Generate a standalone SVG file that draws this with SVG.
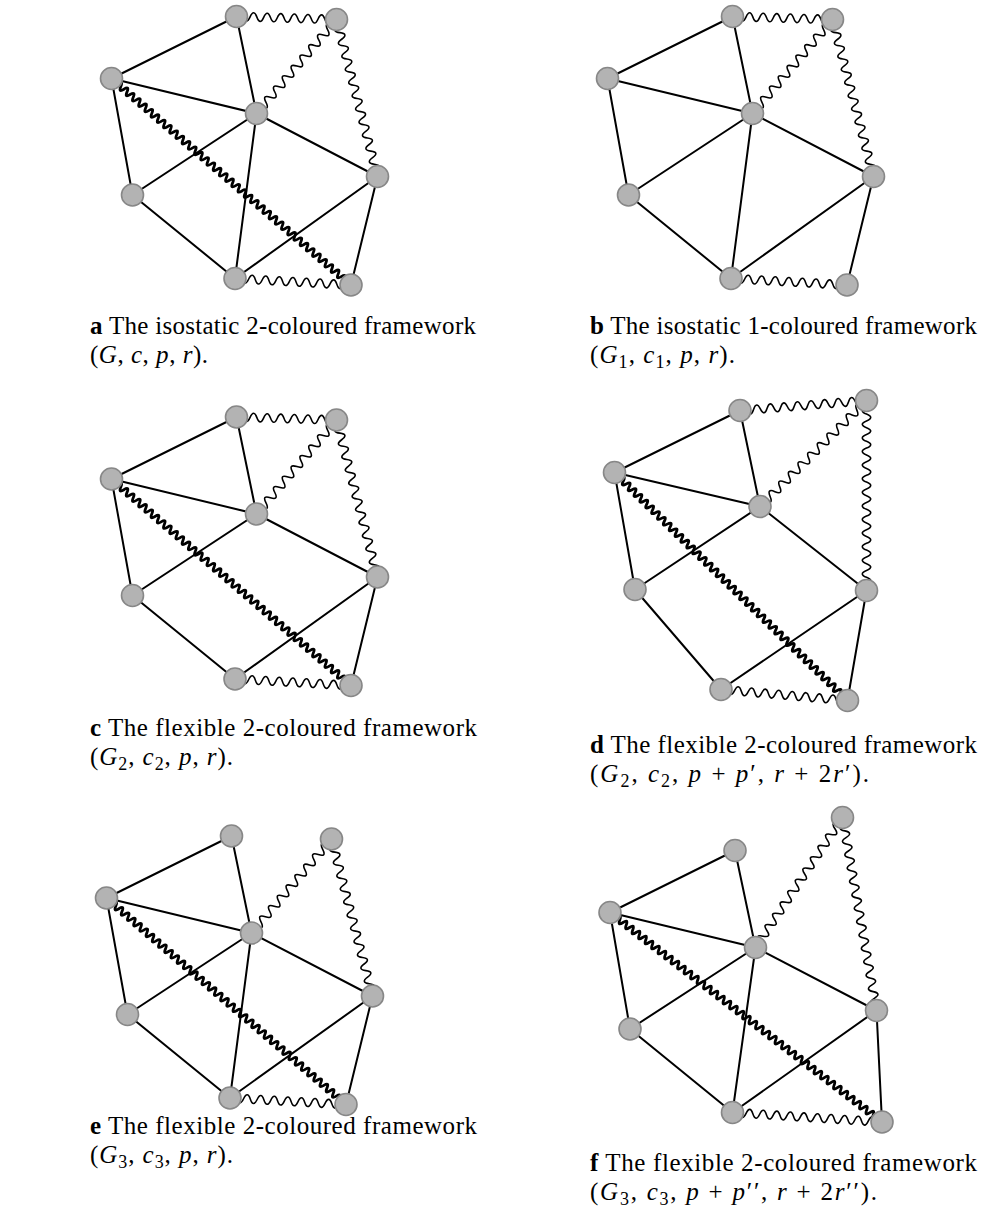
<svg xmlns="http://www.w3.org/2000/svg" xmlns:xlink="http://www.w3.org/1999/xlink" width="981" height="1221" viewBox="0 0 981 1221">
<style>
.bg{fill:#fff}
.e{stroke:#000;stroke-width:2;fill:none;stroke-linecap:round}
.w{stroke:#000;stroke-width:1.6;fill:none}
.k{stroke:#000;stroke-width:2.8;fill:none}
.n{fill:#b3b3b3;stroke:#878787;stroke-width:1.6}
.cap{font-family:"Liberation Serif","Times New Roman",serif;font-size:25px;fill:#000}
.bd{font-weight:bold}
.i{font-style:italic}
.s{font-size:18px}
</style>
<defs>
<path id="w15" d="M0 0q3.4-8.4 6.8 0t6.8 0 t6.8 0 t6.8 0 t6.8 0 t6.8 0 t6.8 0 t6.8 0 t6.8 0 t6.8 0 t6.8 0 t6.8 0 t6.8 0 t6.8 0 t6.8 0"/>
<path id="w17" d="M0 0q3.4-8.4 6.8 0t6.8 0 t6.8 0 t6.8 0 t6.8 0 t6.8 0 t6.8 0 t6.8 0 t6.8 0 t6.8 0 t6.8 0 t6.8 0 t6.8 0 t6.8 0 t6.8 0 t6.8 0 t6.8 0"/>
<path id="w18" d="M0 0q3.4-8.4 6.8 0t6.8 0 t6.8 0 t6.8 0 t6.8 0 t6.8 0 t6.8 0 t6.8 0 t6.8 0 t6.8 0 t6.8 0 t6.8 0 t6.8 0 t6.8 0 t6.8 0 t6.8 0 t6.8 0 t6.8 0"/>
<path id="w19" d="M0 0q3.4-8.4 6.8 0t6.8 0 t6.8 0 t6.8 0 t6.8 0 t6.8 0 t6.8 0 t6.8 0 t6.8 0 t6.8 0 t6.8 0 t6.8 0 t6.8 0 t6.8 0 t6.8 0 t6.8 0 t6.8 0 t6.8 0 t6.8 0"/>
<path id="w22" d="M0 0q3.4-8.4 6.8 0t6.8 0 t6.8 0 t6.8 0 t6.8 0 t6.8 0 t6.8 0 t6.8 0 t6.8 0 t6.8 0 t6.8 0 t6.8 0 t6.8 0 t6.8 0 t6.8 0 t6.8 0 t6.8 0 t6.8 0 t6.8 0 t6.8 0 t6.8 0 t6.8 0"/>
<path id="w23" d="M0 0q3.4-8.4 6.8 0t6.8 0 t6.8 0 t6.8 0 t6.8 0 t6.8 0 t6.8 0 t6.8 0 t6.8 0 t6.8 0 t6.8 0 t6.8 0 t6.8 0 t6.8 0 t6.8 0 t6.8 0 t6.8 0 t6.8 0 t6.8 0 t6.8 0 t6.8 0 t6.8 0 t6.8 0"/>
<path id="w24" d="M0 0q3.4-8.4 6.8 0t6.8 0 t6.8 0 t6.8 0 t6.8 0 t6.8 0 t6.8 0 t6.8 0 t6.8 0 t6.8 0 t6.8 0 t6.8 0 t6.8 0 t6.8 0 t6.8 0 t6.8 0 t6.8 0 t6.8 0 t6.8 0 t6.8 0 t6.8 0 t6.8 0 t6.8 0 t6.8 0"/>
<path id="w28" d="M0 0q3.4-8.4 6.8 0t6.8 0 t6.8 0 t6.8 0 t6.8 0 t6.8 0 t6.8 0 t6.8 0 t6.8 0 t6.8 0 t6.8 0 t6.8 0 t6.8 0 t6.8 0 t6.8 0 t6.8 0 t6.8 0 t6.8 0 t6.8 0 t6.8 0 t6.8 0 t6.8 0 t6.8 0 t6.8 0 t6.8 0 t6.8 0 t6.8 0 t6.8 0"/>
<path id="w29" d="M0 0q3.4-8.4 6.8 0t6.8 0 t6.8 0 t6.8 0 t6.8 0 t6.8 0 t6.8 0 t6.8 0 t6.8 0 t6.8 0 t6.8 0 t6.8 0 t6.8 0 t6.8 0 t6.8 0 t6.8 0 t6.8 0 t6.8 0 t6.8 0 t6.8 0 t6.8 0 t6.8 0 t6.8 0 t6.8 0 t6.8 0 t6.8 0 t6.8 0 t6.8 0 t6.8 0"/>
<path id="k77" d="M0 0q2.05-6.5 4.1 0t4.1 0 t4.1 0 t4.1 0 t4.1 0 t4.1 0 t4.1 0 t4.1 0 t4.1 0 t4.1 0 t4.1 0 t4.1 0 t4.1 0 t4.1 0 t4.1 0 t4.1 0 t4.1 0 t4.1 0 t4.1 0 t4.1 0 t4.1 0 t4.1 0 t4.1 0 t4.1 0 t4.1 0 t4.1 0 t4.1 0 t4.1 0 t4.1 0 t4.1 0 t4.1 0 t4.1 0 t4.1 0 t4.1 0 t4.1 0 t4.1 0 t4.1 0 t4.1 0 t4.1 0 t4.1 0 t4.1 0 t4.1 0 t4.1 0 t4.1 0 t4.1 0 t4.1 0 t4.1 0 t4.1 0 t4.1 0 t4.1 0 t4.1 0 t4.1 0 t4.1 0 t4.1 0 t4.1 0 t4.1 0 t4.1 0 t4.1 0 t4.1 0 t4.1 0 t4.1 0 t4.1 0 t4.1 0 t4.1 0 t4.1 0 t4.1 0 t4.1 0 t4.1 0 t4.1 0 t4.1 0 t4.1 0 t4.1 0 t4.1 0 t4.1 0 t4.1 0 t4.1 0 t4.1 0"/>
<path id="k80" d="M0 0q2.05-6.5 4.1 0t4.1 0 t4.1 0 t4.1 0 t4.1 0 t4.1 0 t4.1 0 t4.1 0 t4.1 0 t4.1 0 t4.1 0 t4.1 0 t4.1 0 t4.1 0 t4.1 0 t4.1 0 t4.1 0 t4.1 0 t4.1 0 t4.1 0 t4.1 0 t4.1 0 t4.1 0 t4.1 0 t4.1 0 t4.1 0 t4.1 0 t4.1 0 t4.1 0 t4.1 0 t4.1 0 t4.1 0 t4.1 0 t4.1 0 t4.1 0 t4.1 0 t4.1 0 t4.1 0 t4.1 0 t4.1 0 t4.1 0 t4.1 0 t4.1 0 t4.1 0 t4.1 0 t4.1 0 t4.1 0 t4.1 0 t4.1 0 t4.1 0 t4.1 0 t4.1 0 t4.1 0 t4.1 0 t4.1 0 t4.1 0 t4.1 0 t4.1 0 t4.1 0 t4.1 0 t4.1 0 t4.1 0 t4.1 0 t4.1 0 t4.1 0 t4.1 0 t4.1 0 t4.1 0 t4.1 0 t4.1 0 t4.1 0 t4.1 0 t4.1 0 t4.1 0 t4.1 0 t4.1 0 t4.1 0 t4.1 0 t4.1 0"/>
<path id="k84" d="M0 0q2.05-6.5 4.1 0t4.1 0 t4.1 0 t4.1 0 t4.1 0 t4.1 0 t4.1 0 t4.1 0 t4.1 0 t4.1 0 t4.1 0 t4.1 0 t4.1 0 t4.1 0 t4.1 0 t4.1 0 t4.1 0 t4.1 0 t4.1 0 t4.1 0 t4.1 0 t4.1 0 t4.1 0 t4.1 0 t4.1 0 t4.1 0 t4.1 0 t4.1 0 t4.1 0 t4.1 0 t4.1 0 t4.1 0 t4.1 0 t4.1 0 t4.1 0 t4.1 0 t4.1 0 t4.1 0 t4.1 0 t4.1 0 t4.1 0 t4.1 0 t4.1 0 t4.1 0 t4.1 0 t4.1 0 t4.1 0 t4.1 0 t4.1 0 t4.1 0 t4.1 0 t4.1 0 t4.1 0 t4.1 0 t4.1 0 t4.1 0 t4.1 0 t4.1 0 t4.1 0 t4.1 0 t4.1 0 t4.1 0 t4.1 0 t4.1 0 t4.1 0 t4.1 0 t4.1 0 t4.1 0 t4.1 0 t4.1 0 t4.1 0 t4.1 0 t4.1 0 t4.1 0 t4.1 0 t4.1 0 t4.1 0 t4.1 0 t4.1 0 t4.1 0 t4.1 0 t4.1 0 t4.1 0 t4.1 0"/>
</defs>
<rect class="bg" x="0" y="0" width="981" height="1221"/>

<!-- Panel a -->
<g id="panel-a">
<g id="a-connectors">
<line class="e" x1="236.5" y1="16.5" x2="111.5" y2="78.5"/>
<line class="e" x1="236.5" y1="16.5" x2="256.5" y2="113.5"/>
<line class="e" x1="111.5" y1="78.5" x2="256.5" y2="113.5"/>
<line class="e" x1="111.5" y1="78.5" x2="132.5" y2="195"/>
<line class="e" x1="132.5" y1="195" x2="256.5" y2="113.5"/>
<line class="e" x1="132.5" y1="195" x2="235" y2="278.5"/>
<line class="e" x1="256.5" y1="113.5" x2="235" y2="278.5"/>
<line class="e" x1="256.5" y1="113.5" x2="377.5" y2="176.5"/>
<line class="e" x1="235" y1="278.5" x2="377.5" y2="176.5"/>
<line class="e" x1="377.5" y1="176.5" x2="351" y2="285"/>
<use class="w" href="#w15" transform="translate(236.5,16.5) rotate(1.72)"/>
<use class="w" href="#w18" transform="translate(336.5,19.5) rotate(130.4)"/>
<use class="w" href="#w24" transform="translate(336.5,19.5) rotate(75.36)"/>
<use class="w" href="#w17" transform="translate(235,278.5) rotate(3.21)"/>
<use class="k" href="#k77" transform="translate(111.5,78.5) rotate(40.77)"/>
</g>
<g id="a-T"><circle class="n" cx="236.5" cy="16.5" r="11"/></g>
<g id="a-TR"><circle class="n" cx="336.5" cy="19.5" r="11"/></g>
<g id="a-L"><circle class="n" cx="111.5" cy="78.5" r="11"/></g>
<g id="a-C"><circle class="n" cx="256.5" cy="113.5" r="11"/></g>
<g id="a-R"><circle class="n" cx="377.5" cy="176.5" r="11"/></g>
<g id="a-LL"><circle class="n" cx="132.5" cy="195" r="11"/></g>
<g id="a-B"><circle class="n" cx="235" cy="278.5" r="11"/></g>
<g id="a-BR"><circle class="n" cx="351" cy="285" r="11"/></g>
<text class="cap" x="90" y="334" textLength="386" lengthAdjust="spacing"><tspan class="bd">a</tspan> The isostatic 2-coloured framework</text>
<text class="cap" x="90" y="363" textLength="118" lengthAdjust="spacing">(<tspan class="i">G</tspan>, <tspan class="i">c</tspan>, <tspan class="i">p</tspan>, <tspan class="i">r</tspan>).</text>
</g>

<!-- Panel b -->
<g id="panel-b" transform="translate(496,0)">
<g id="b-connectors">
<line class="e" x1="236.5" y1="16.5" x2="111.5" y2="78.5"/>
<line class="e" x1="236.5" y1="16.5" x2="256.5" y2="113.5"/>
<line class="e" x1="111.5" y1="78.5" x2="256.5" y2="113.5"/>
<line class="e" x1="111.5" y1="78.5" x2="132.5" y2="195"/>
<line class="e" x1="132.5" y1="195" x2="256.5" y2="113.5"/>
<line class="e" x1="132.5" y1="195" x2="235" y2="278.5"/>
<line class="e" x1="256.5" y1="113.5" x2="235" y2="278.5"/>
<line class="e" x1="256.5" y1="113.5" x2="377.5" y2="176.5"/>
<line class="e" x1="235" y1="278.5" x2="377.5" y2="176.5"/>
<line class="e" x1="377.5" y1="176.5" x2="351" y2="285"/>
<use class="w" href="#w15" transform="translate(236.5,16.5) rotate(1.72)"/>
<use class="w" href="#w18" transform="translate(336.5,19.5) rotate(130.4)"/>
<use class="w" href="#w24" transform="translate(336.5,19.5) rotate(75.36)"/>
<use class="w" href="#w17" transform="translate(235,278.5) rotate(3.21)"/>
</g>
<g id="b-T"><circle class="n" cx="236.5" cy="16.5" r="11"/></g>
<g id="b-TR"><circle class="n" cx="336.5" cy="19.5" r="11"/></g>
<g id="b-L"><circle class="n" cx="111.5" cy="78.5" r="11"/></g>
<g id="b-C"><circle class="n" cx="256.5" cy="113.5" r="11"/></g>
<g id="b-R"><circle class="n" cx="377.5" cy="176.5" r="11"/></g>
<g id="b-LL"><circle class="n" cx="132.5" cy="195" r="11"/></g>
<g id="b-B"><circle class="n" cx="235" cy="278.5" r="11"/></g>
<g id="b-BR"><circle class="n" cx="351" cy="285" r="11"/></g>
<text class="cap" x="94" y="334" textLength="387" lengthAdjust="spacing"><tspan class="bd">b</tspan> The isostatic 1-coloured framework</text>
<text class="cap" x="94" y="363" textLength="145" lengthAdjust="spacing">(<tspan class="i">G</tspan><tspan class="s" dy="5">1</tspan><tspan dy="-5">, </tspan><tspan class="i">c</tspan><tspan class="s" dy="5">1</tspan><tspan dy="-5">, </tspan><tspan class="i">p</tspan>, <tspan class="i">r</tspan>).</text>
</g>

<!-- Panel c -->
<g id="panel-c" transform="translate(0,400.5)">
<g id="c-connectors">
<line class="e" x1="236.5" y1="16.5" x2="111.5" y2="78.5"/>
<line class="e" x1="236.5" y1="16.5" x2="256.5" y2="113.5"/>
<line class="e" x1="111.5" y1="78.5" x2="256.5" y2="113.5"/>
<line class="e" x1="111.5" y1="78.5" x2="132.5" y2="195"/>
<line class="e" x1="132.5" y1="195" x2="256.5" y2="113.5"/>
<line class="e" x1="132.5" y1="195" x2="235" y2="278.5"/>
<line class="e" x1="256.5" y1="113.5" x2="377.5" y2="176.5"/>
<line class="e" x1="235" y1="278.5" x2="377.5" y2="176.5"/>
<line class="e" x1="377.5" y1="176.5" x2="351" y2="285"/>
<use class="w" href="#w15" transform="translate(236.5,16.5) rotate(1.72)"/>
<use class="w" href="#w18" transform="translate(336.5,19.5) rotate(130.4)"/>
<use class="w" href="#w24" transform="translate(336.5,19.5) rotate(75.36)"/>
<use class="w" href="#w17" transform="translate(235,278.5) rotate(3.21)"/>
<use class="k" href="#k77" transform="translate(111.5,78.5) rotate(40.77)"/>
</g>
<g id="c-T"><circle class="n" cx="236.5" cy="16.5" r="11"/></g>
<g id="c-TR"><circle class="n" cx="336.5" cy="19.5" r="11"/></g>
<g id="c-L"><circle class="n" cx="111.5" cy="78.5" r="11"/></g>
<g id="c-C"><circle class="n" cx="256.5" cy="113.5" r="11"/></g>
<g id="c-R"><circle class="n" cx="377.5" cy="176.5" r="11"/></g>
<g id="c-LL"><circle class="n" cx="132.5" cy="195" r="11"/></g>
<g id="c-B"><circle class="n" cx="235" cy="278.5" r="11"/></g>
<g id="c-BR"><circle class="n" cx="351" cy="285" r="11"/></g>
<text class="cap" x="90" y="335.5" textLength="387" lengthAdjust="spacing"><tspan class="bd">c</tspan> The flexible 2-coloured framework</text>
<text class="cap" x="90" y="364.5" textLength="143" lengthAdjust="spacing">(<tspan class="i">G</tspan><tspan class="s" dy="5">2</tspan><tspan dy="-5">, </tspan><tspan class="i">c</tspan><tspan class="s" dy="5">2</tspan><tspan dy="-5">, </tspan><tspan class="i">p</tspan>, <tspan class="i">r</tspan>).</text>
</g>

<!-- Panel d -->
<g id="panel-d">
<g id="d-connectors">
<line class="e" x1="740" y1="410.5" x2="614.5" y2="472.5"/>
<line class="e" x1="740" y1="410.5" x2="760" y2="506.5"/>
<line class="e" x1="614.5" y1="472.5" x2="760" y2="506.5"/>
<line class="e" x1="614.5" y1="472.5" x2="635" y2="589.5"/>
<line class="e" x1="635" y1="589.5" x2="760" y2="506.5"/>
<line class="e" x1="635" y1="589.5" x2="721" y2="689.5"/>
<line class="e" x1="760" y1="506.5" x2="866.5" y2="590.5"/>
<line class="e" x1="721" y1="689.5" x2="866.5" y2="590.5"/>
<line class="e" x1="866.5" y1="590.5" x2="847.5" y2="700.5"/>
<use class="w" href="#w19" transform="translate(740,410.5) rotate(-4.52)"/>
<use class="w" href="#w22" transform="translate(866.5,400.5) rotate(135.13)"/>
<use class="w" href="#w28" transform="translate(866.5,400.5) rotate(90)"/>
<use class="w" href="#w19" transform="translate(721,689.5) rotate(4.97)"/>
<use class="k" href="#k80" transform="translate(614.5,472.5) rotate(44.38)"/>
</g>
<g id="d-T"><circle class="n" cx="740" cy="410.5" r="11"/></g>
<g id="d-TR"><circle class="n" cx="866.5" cy="400.5" r="11"/></g>
<g id="d-L"><circle class="n" cx="614.5" cy="472.5" r="11"/></g>
<g id="d-C"><circle class="n" cx="760" cy="506.5" r="11"/></g>
<g id="d-R"><circle class="n" cx="866.5" cy="590.5" r="11"/></g>
<g id="d-LL"><circle class="n" cx="635" cy="589.5" r="11"/></g>
<g id="d-B"><circle class="n" cx="721" cy="689.5" r="11"/></g>
<g id="d-BR"><circle class="n" cx="847.5" cy="700.5" r="11"/></g>
<text class="cap" x="590" y="753" textLength="387" lengthAdjust="spacing"><tspan class="bd">d</tspan> The flexible 2-coloured framework</text>
<text class="cap" x="590" y="782" textLength="279" lengthAdjust="spacing">(<tspan class="i">G</tspan><tspan class="s" dy="5">2</tspan><tspan dy="-5">, </tspan><tspan class="i">c</tspan><tspan class="s" dy="5">2</tspan><tspan dy="-5">, </tspan><tspan class="i">p</tspan> + <tspan class="i">p</tspan>′, <tspan class="i">r</tspan> + 2<tspan class="i">r</tspan>′).</text>
</g>

<!-- Panel e -->
<g id="panel-e" transform="translate(-5,819.5)">
<g id="e-connectors">
<line class="e" x1="236.5" y1="16.5" x2="111.5" y2="78.5"/>
<line class="e" x1="236.5" y1="16.5" x2="256.5" y2="113.5"/>
<line class="e" x1="111.5" y1="78.5" x2="256.5" y2="113.5"/>
<line class="e" x1="111.5" y1="78.5" x2="132.5" y2="195"/>
<line class="e" x1="132.5" y1="195" x2="256.5" y2="113.5"/>
<line class="e" x1="132.5" y1="195" x2="235" y2="278.5"/>
<line class="e" x1="256.5" y1="113.5" x2="235" y2="278.5"/>
<line class="e" x1="256.5" y1="113.5" x2="377.5" y2="176.5"/>
<line class="e" x1="235" y1="278.5" x2="377.5" y2="176.5"/>
<line class="e" x1="377.5" y1="176.5" x2="351" y2="285"/>
<use class="w" href="#w18" transform="translate(336.5,19.5) rotate(130.4)"/>
<use class="w" href="#w24" transform="translate(336.5,19.5) rotate(75.36)"/>
<use class="w" href="#w17" transform="translate(235,278.5) rotate(3.21)"/>
<use class="k" href="#k77" transform="translate(111.5,78.5) rotate(40.77)"/>
</g>
<g id="e-T"><circle class="n" cx="236.5" cy="16.5" r="11"/></g>
<g id="e-TR"><circle class="n" cx="336.5" cy="19.5" r="11"/></g>
<g id="e-L"><circle class="n" cx="111.5" cy="78.5" r="11"/></g>
<g id="e-C"><circle class="n" cx="256.5" cy="113.5" r="11"/></g>
<g id="e-R"><circle class="n" cx="377.5" cy="176.5" r="11"/></g>
<g id="e-LL"><circle class="n" cx="132.5" cy="195" r="11"/></g>
<g id="e-B"><circle class="n" cx="235" cy="278.5" r="11"/></g>
<g id="e-BR"><circle class="n" cx="351" cy="285" r="11"/></g>
<text class="cap" x="95" y="314.5" textLength="387" lengthAdjust="spacing"><tspan class="bd">e</tspan> The flexible 2-coloured framework</text>
<text class="cap" x="95" y="343.5" textLength="143" lengthAdjust="spacing">(<tspan class="i">G</tspan><tspan class="s" dy="5">3</tspan><tspan dy="-5">, </tspan><tspan class="i">c</tspan><tspan class="s" dy="5">3</tspan><tspan dy="-5">, </tspan><tspan class="i">p</tspan>, <tspan class="i">r</tspan>).</text>
</g>

<!-- Panel f -->
<g id="panel-f">
<g id="f-connectors">
<line class="e" x1="735" y1="850.5" x2="610" y2="912.5"/>
<line class="e" x1="735" y1="850.5" x2="755.5" y2="947.5"/>
<line class="e" x1="610" y1="912.5" x2="755.5" y2="947.5"/>
<line class="e" x1="610" y1="912.5" x2="630" y2="1029"/>
<line class="e" x1="630" y1="1029" x2="755.5" y2="947.5"/>
<line class="e" x1="630" y1="1029" x2="732.5" y2="1112.5"/>
<line class="e" x1="755.5" y1="947.5" x2="732.5" y2="1112.5"/>
<line class="e" x1="755.5" y1="947.5" x2="876.5" y2="1010.5"/>
<line class="e" x1="732.5" y1="1112.5" x2="876.5" y2="1010.5"/>
<line class="e" x1="876.5" y1="1010.5" x2="882" y2="1122"/>
<use class="w" href="#w23" transform="translate(842.5,817.5) rotate(123.8)"/>
<use class="w" href="#w29" transform="translate(842.5,817.5) rotate(80)"/>
<use class="w" href="#w22" transform="translate(732.5,1112.5) rotate(3.64)"/>
<use class="k" href="#k84" transform="translate(610,912.5) rotate(37.6)"/>
</g>
<g id="f-T"><circle class="n" cx="735" cy="850.5" r="11"/></g>
<g id="f-TR"><circle class="n" cx="842.5" cy="817.5" r="11"/></g>
<g id="f-L"><circle class="n" cx="610" cy="912.5" r="11"/></g>
<g id="f-C"><circle class="n" cx="755.5" cy="947.5" r="11"/></g>
<g id="f-R"><circle class="n" cx="876.5" cy="1010.5" r="11"/></g>
<g id="f-LL"><circle class="n" cx="630" cy="1029" r="11"/></g>
<g id="f-B"><circle class="n" cx="732.5" cy="1112.5" r="11"/></g>
<g id="f-BR"><circle class="n" cx="882" cy="1122" r="11"/></g>
<text class="cap" x="590" y="1171" textLength="387" lengthAdjust="spacing"><tspan class="bd">f</tspan> The flexible 2-coloured framework</text>
<text class="cap" x="590" y="1200" textLength="287" lengthAdjust="spacing">(<tspan class="i">G</tspan><tspan class="s" dy="5">3</tspan><tspan dy="-5">, </tspan><tspan class="i">c</tspan><tspan class="s" dy="5">3</tspan><tspan dy="-5">, </tspan><tspan class="i">p</tspan> + <tspan class="i">p</tspan>′′, <tspan class="i">r</tspan> + 2<tspan class="i">r</tspan>′′).</text>
</g>
</svg>
